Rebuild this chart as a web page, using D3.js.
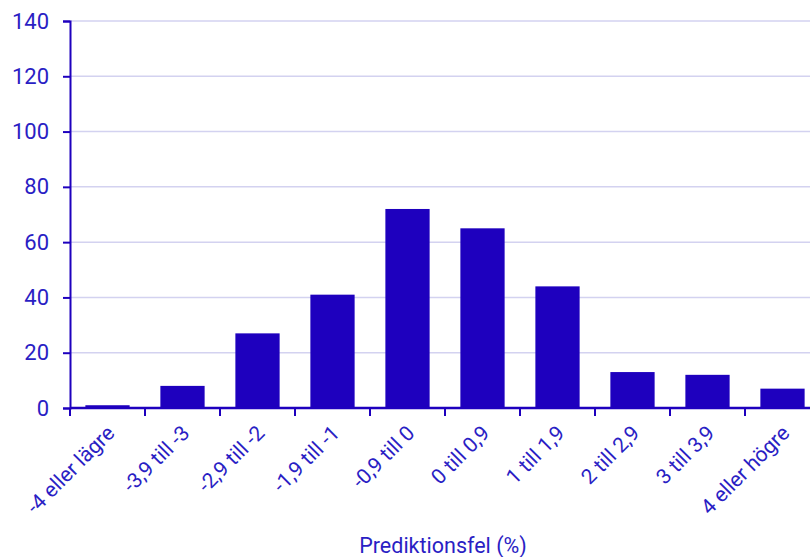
<!DOCTYPE html>
<html>
<head>
<meta charset="utf-8">
<script src="https://cdn.jsdelivr.net/npm/d3@7"></script>
<style>
  body { margin: 0; background: #fff; }
  svg text { font-family: Roboto, sans-serif; }
</style>
</head>
<body>
<svg id="chart" width="810" height="557"></svg>
<script>
const categories = ["-4 eller lägre", "-3,9 till -3", "-2,9 till -2", "-1,9 till -1", "-0,9 till 0",
  "0 till 0,9", "1 till 1,9", "2 till 2,9", "3 till 3,9", "4 eller högre"];
const values = [1, 8, 27, 41, 72, 65, 44, 13, 12, 7];
const yTicks = [0, 20, 40, 60, 80, 100, 120, 140];
const xTitle = "Prediktionsfel (%)";

const color = "#1e00be";
const textColor = "#2a1ec4";
const gridColor = "#d3d2f0";

const svg = d3.select("#chart");
const mLeft = 70, mRight = 820, mTop = 21, mBottom = 408;

const x = d3.scaleBand().domain(categories).range([mLeft, mRight]).paddingInner(0.41).paddingOuter(0.205);
const y = d3.scaleLinear().domain([0, 140]).range([mBottom, mTop]);

// gridlines
svg.append("g")
  .selectAll("line")
  .data(yTicks.slice(1))
  .join("line")
  .attr("x1", mLeft).attr("x2", 810)
  .attr("y1", d => y(d)).attr("y2", d => y(d))
  .attr("stroke", gridColor).attr("stroke-width", 1.5);

// bars
svg.append("g")
  .selectAll("rect")
  .data(values)
  .join("rect")
  .attr("x", (d, i) => x(categories[i]))
  .attr("width", x.bandwidth())
  .attr("y", d => y(d))
  .attr("height", d => y(0) - y(d))
  .attr("fill", color);

// y axis
const yAxis = svg.append("g")
  .attr("transform", `translate(${mLeft},0)`)
  .call(d3.axisLeft(y).tickValues(yTicks).tickSize(7).tickPadding(14));
yAxis.attr("font-family", null);
yAxis.select(".domain").attr("stroke", color).attr("stroke-width", 2);
yAxis.selectAll(".tick line").attr("stroke", color).attr("stroke-width", 2);
yAxis.selectAll("text").attr("fill", textColor).style("font-size", "22px");

// x axis: ticks at band boundaries
const xAxis = svg.append("g").attr("transform", `translate(0,${mBottom})`);
xAxis.append("line")
  .attr("x1", mLeft).attr("x2", 810)
  .attr("stroke", color).attr("stroke-width", 2.5);
const boundary = d => x(d) - x.step() * x.paddingInner() / 2;
xAxis.selectAll(".tk")
  .data(categories)
  .join("line")
  .attr("class", "tk")
  .attr("x1", boundary).attr("x2", boundary)
  .attr("y1", 0).attr("y2", 8)
  .attr("stroke", color).attr("stroke-width", 2);

xAxis.selectAll(".lbl")
  .data(categories)
  .join("text")
  .attr("class", "lbl")
  .attr("transform", d => `translate(${x(d) + x.bandwidth() / 2 - 2},16) rotate(-45)`)
  .attr("text-anchor", "end")
  .attr("dy", "0.7em")
  .attr("fill", textColor)
  .style("font-size", "21px")
  .text(d => d);

svg.append("text")
  .attr("x", 443).attr("y", 553)
  .attr("text-anchor", "middle")
  .attr("fill", textColor)
  .style("font-size", "21.5px")
  .text(xTitle);
</script>
</body>
</html>
